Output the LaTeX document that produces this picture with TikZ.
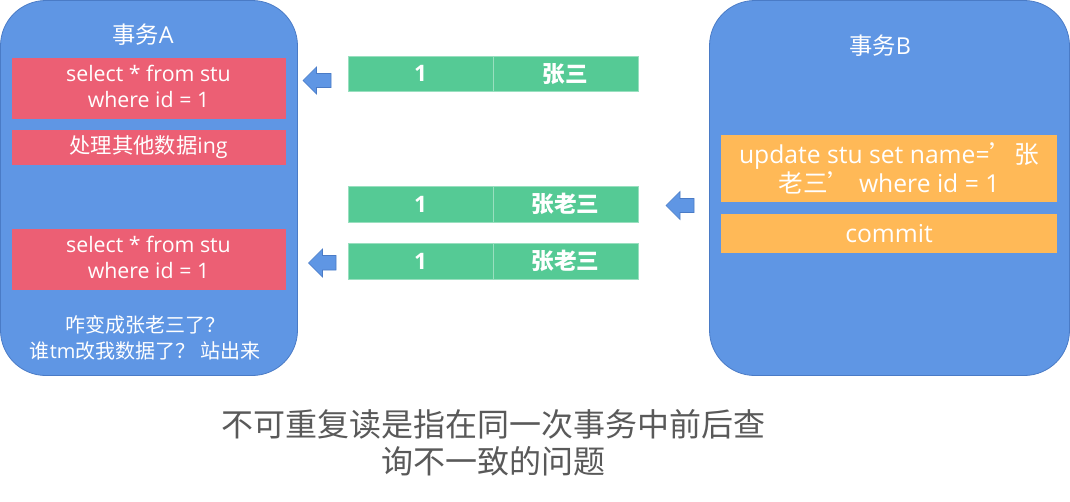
\documentclass[tikz,border=0pt]{standalone}
\usepackage{fontspec}
\setmainfont{Open Sans}
\newfontfamily\cjk{Noto Sans CJK SC}
\usetikzlibrary{fit}
\definecolor{boxblue}{HTML}{5F96E4}
\definecolor{boxedge}{HTML}{4A7BC6}
\definecolor{sqlred}{HTML}{EC5F74}
\definecolor{updorange}{HTML}{FFB957}
\definecolor{rowgreen}{HTML}{55CA95}
\definecolor{captiongray}{HTML}{595959}
\tikzset{
  txn/.style={draw=boxedge, fill=boxblue, line width=0.6pt, inner sep=0pt, rounded corners=34pt},
  txtitle/.style={text=white, font=\fontsize{17.5}{20}\selectfont},
  sqlbox/.style={fill=sqlred, inner sep=0pt},
  sqltext/.style={text=white, align=center, inner sep=0pt, font=\fontsize{16}{19.5}\selectfont},
  updbox/.style={fill=updorange, inner sep=0pt},
  updtext/.style={text=white, align=center, inner sep=0pt, font=\fontsize{18.5}{21.5}\selectfont},
  cell/.style={fill=rowgreen, draw=rowgreen!60!white, line width=0.5pt, inner sep=0pt},
  celltext/.style={text=white, inner sep=0pt, font=\fontsize{17}{18}\selectfont\bfseries},
  note/.style={text=white, align=center, font=\fontsize{15}{20}\selectfont},
  caption/.style={text=captiongray, align=center, font=\fontsize{24}{27.75}\selectfont\cjk},
  blockarrow/.style={fill=boxblue, draw=boxedge, line width=0.5pt, line join=miter}
}
\begin{document}
\begin{tikzpicture}[x=0.75pt,y=-0.75pt]
\useasboundingbox (0,0) rectangle (1070,501);

% transaction A
\node[txn, fit={(0.5,0.5)(297.5,375.5)}] (txA) {};
\node[txtitle] (titleA) at (143,35) {{\cjk 事务}A};
\node[sqlbox, fit={(11.5,58)(285.5,119)}] (selA1) {};
\node[sqltext] (selA1t) at ([yshift=1.2pt]selA1.center) {select * from stu\\where id = 1};
\node[sqlbox, fit={(11.5,130)(285.5,165)}] (procA) {};
\node[sqltext] (procAt) at (procA.center) {{\cjk 处理其他数据}ing};
\node[sqlbox, fit={(11.5,229)(285.5,289.5)}] (selA2) {};
\node[sqltext] (selA2t) at ([yshift=1.2pt]selA2.center) {select * from stu\\where id = 1};
\node[note] (noteA) at (145,338) {{\cjk 咋变成张老三了？}\\{\cjk 谁}tm{\cjk 改我数据了？ 站出来}};

% transaction B
\node[txn, fit={(709.5,0.5)(1069.5,375.5)}] (txB) {};
\node[txtitle] (titleB) at (880,46) {{\cjk 事务}B};
\node[updbox, fit={(721,135)(1057,201.5)}] (updB) {};
\node[updtext] (updBt) at (updB.center) {update stu set name={\cjk ’张}\\{\cjk 老三’} where id = 1};
\node[updbox, fit={(721,214)(1057,252.5)}] (commitB) {};
\node[updtext] (commitBt) at (commitB.center) {commit};

% data rows
\node[cell, fit={(348,56)(493,91.5)}] (r1id) {};
\node[celltext] at (r1id.center) {1};
\node[cell, fit={(493,56)(638,91.5)}] (r1name) {};
\node[celltext] at (r1name.center) {\cjk 张三};
\node[cell, fit={(348,186)(493,222)}] (r2id) {};
\node[celltext] at (r2id.center) {1};
\node[cell, fit={(493,186)(638,222)}] (r2name) {};
\node[celltext] at (r2name.center) {\cjk 张老三};
\node[cell, fit={(348,243)(493,279)}] (r3id) {};
\node[celltext] at (r3id.center) {1};
\node[cell, fit={(493,243)(638,279)}] (r3name) {};
\node[celltext] at (r3name.center) {\cjk 张老三};

% block arrows
\draw[blockarrow] (303,80.5) -- (316.5,67) -- (316.5,73.5) -- (331,73.5) -- (331,87.5) -- (316.5,87.5) -- (316.5,94) -- cycle;
\draw[blockarrow] (666,205.5) -- (680,191.5) -- (680,198.5) -- (694,198.5) -- (694,212.5) -- (680,212.5) -- (680,219.5) -- cycle;
\draw[blockarrow] (308.5,263) -- (322.5,249) -- (322.5,255.5) -- (336,255.5) -- (336,270) -- (322.5,270) -- (322.5,277) -- cycle;

% caption
\node[caption] (cap) at (493,443) {不可重复读是指在同一次事务中前后查\\询不一致的问题};
\end{tikzpicture}
\end{document}
